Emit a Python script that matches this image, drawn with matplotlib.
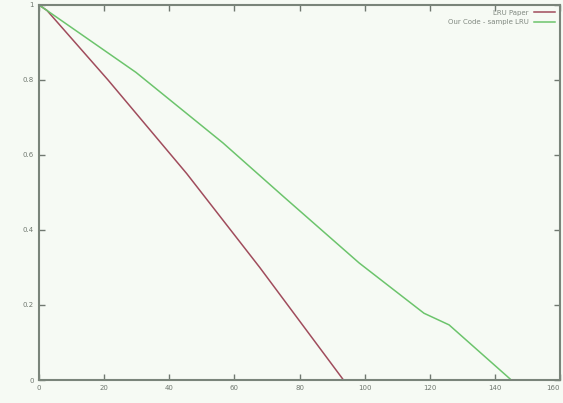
import matplotlib
matplotlib.use("Agg")
import matplotlib.pyplot as plt

# curves
paper_x = [0, 2.5, 21.2, 45.4, 67.8, 93.5]
paper_y = [1.0, 0.985, 0.80, 0.55, 0.30, 0.0]

code_x = [0, 29.8, 56.5, 75.2, 98.3, 118.2, 125.9, 145.0]
code_y = [1.0, 0.82, 0.632, 0.488, 0.312, 0.178, 0.147, 0.0]

xticks = [0, 20, 40, 60, 80, 100, 120, 140, 160]
yticks = [0, 0.2, 0.4, 0.6, 0.8, 1]

fig = plt.figure(figsize=(5.63, 4.03), dpi=100, facecolor="#f6faf4")
ax = fig.add_axes([0.069, 0.057, 0.926, 0.931])
ax.set_facecolor("#f6faf4")

ax.plot(paper_x, paper_y, color="#a04c5c", lw=1.1, label="LRU Paper")
ax.plot(code_x, code_y, color="#6cc46c", lw=1.1, label="Our Code - sample LRU")

ax.set_xlim(0, 160)
ax.set_ylim(0, 1)
ax.set_xticks(xticks)
ax.set_yticks(yticks)
ax.set_yticklabels(["0", "0.2", "0.4", "0.6", "0.8", "1"])
ax.tick_params(direction="in", top=True, right=True, labelsize=5,
               colors="#707870", length=4, width=1)
ax.get_xticklabels()[-1].set_horizontalalignment("right")
for s in ax.spines.values():
    s.set_color("#7a847a")
    s.set_linewidth(1.5)

ax.legend(loc="upper right", frameon=False, fontsize=5, markerfirst=False,
          handlelength=3, labelcolor="#808880", borderaxespad=0.3)

fig.savefig("out.png", dpi=100, facecolor=fig.get_facecolor())
